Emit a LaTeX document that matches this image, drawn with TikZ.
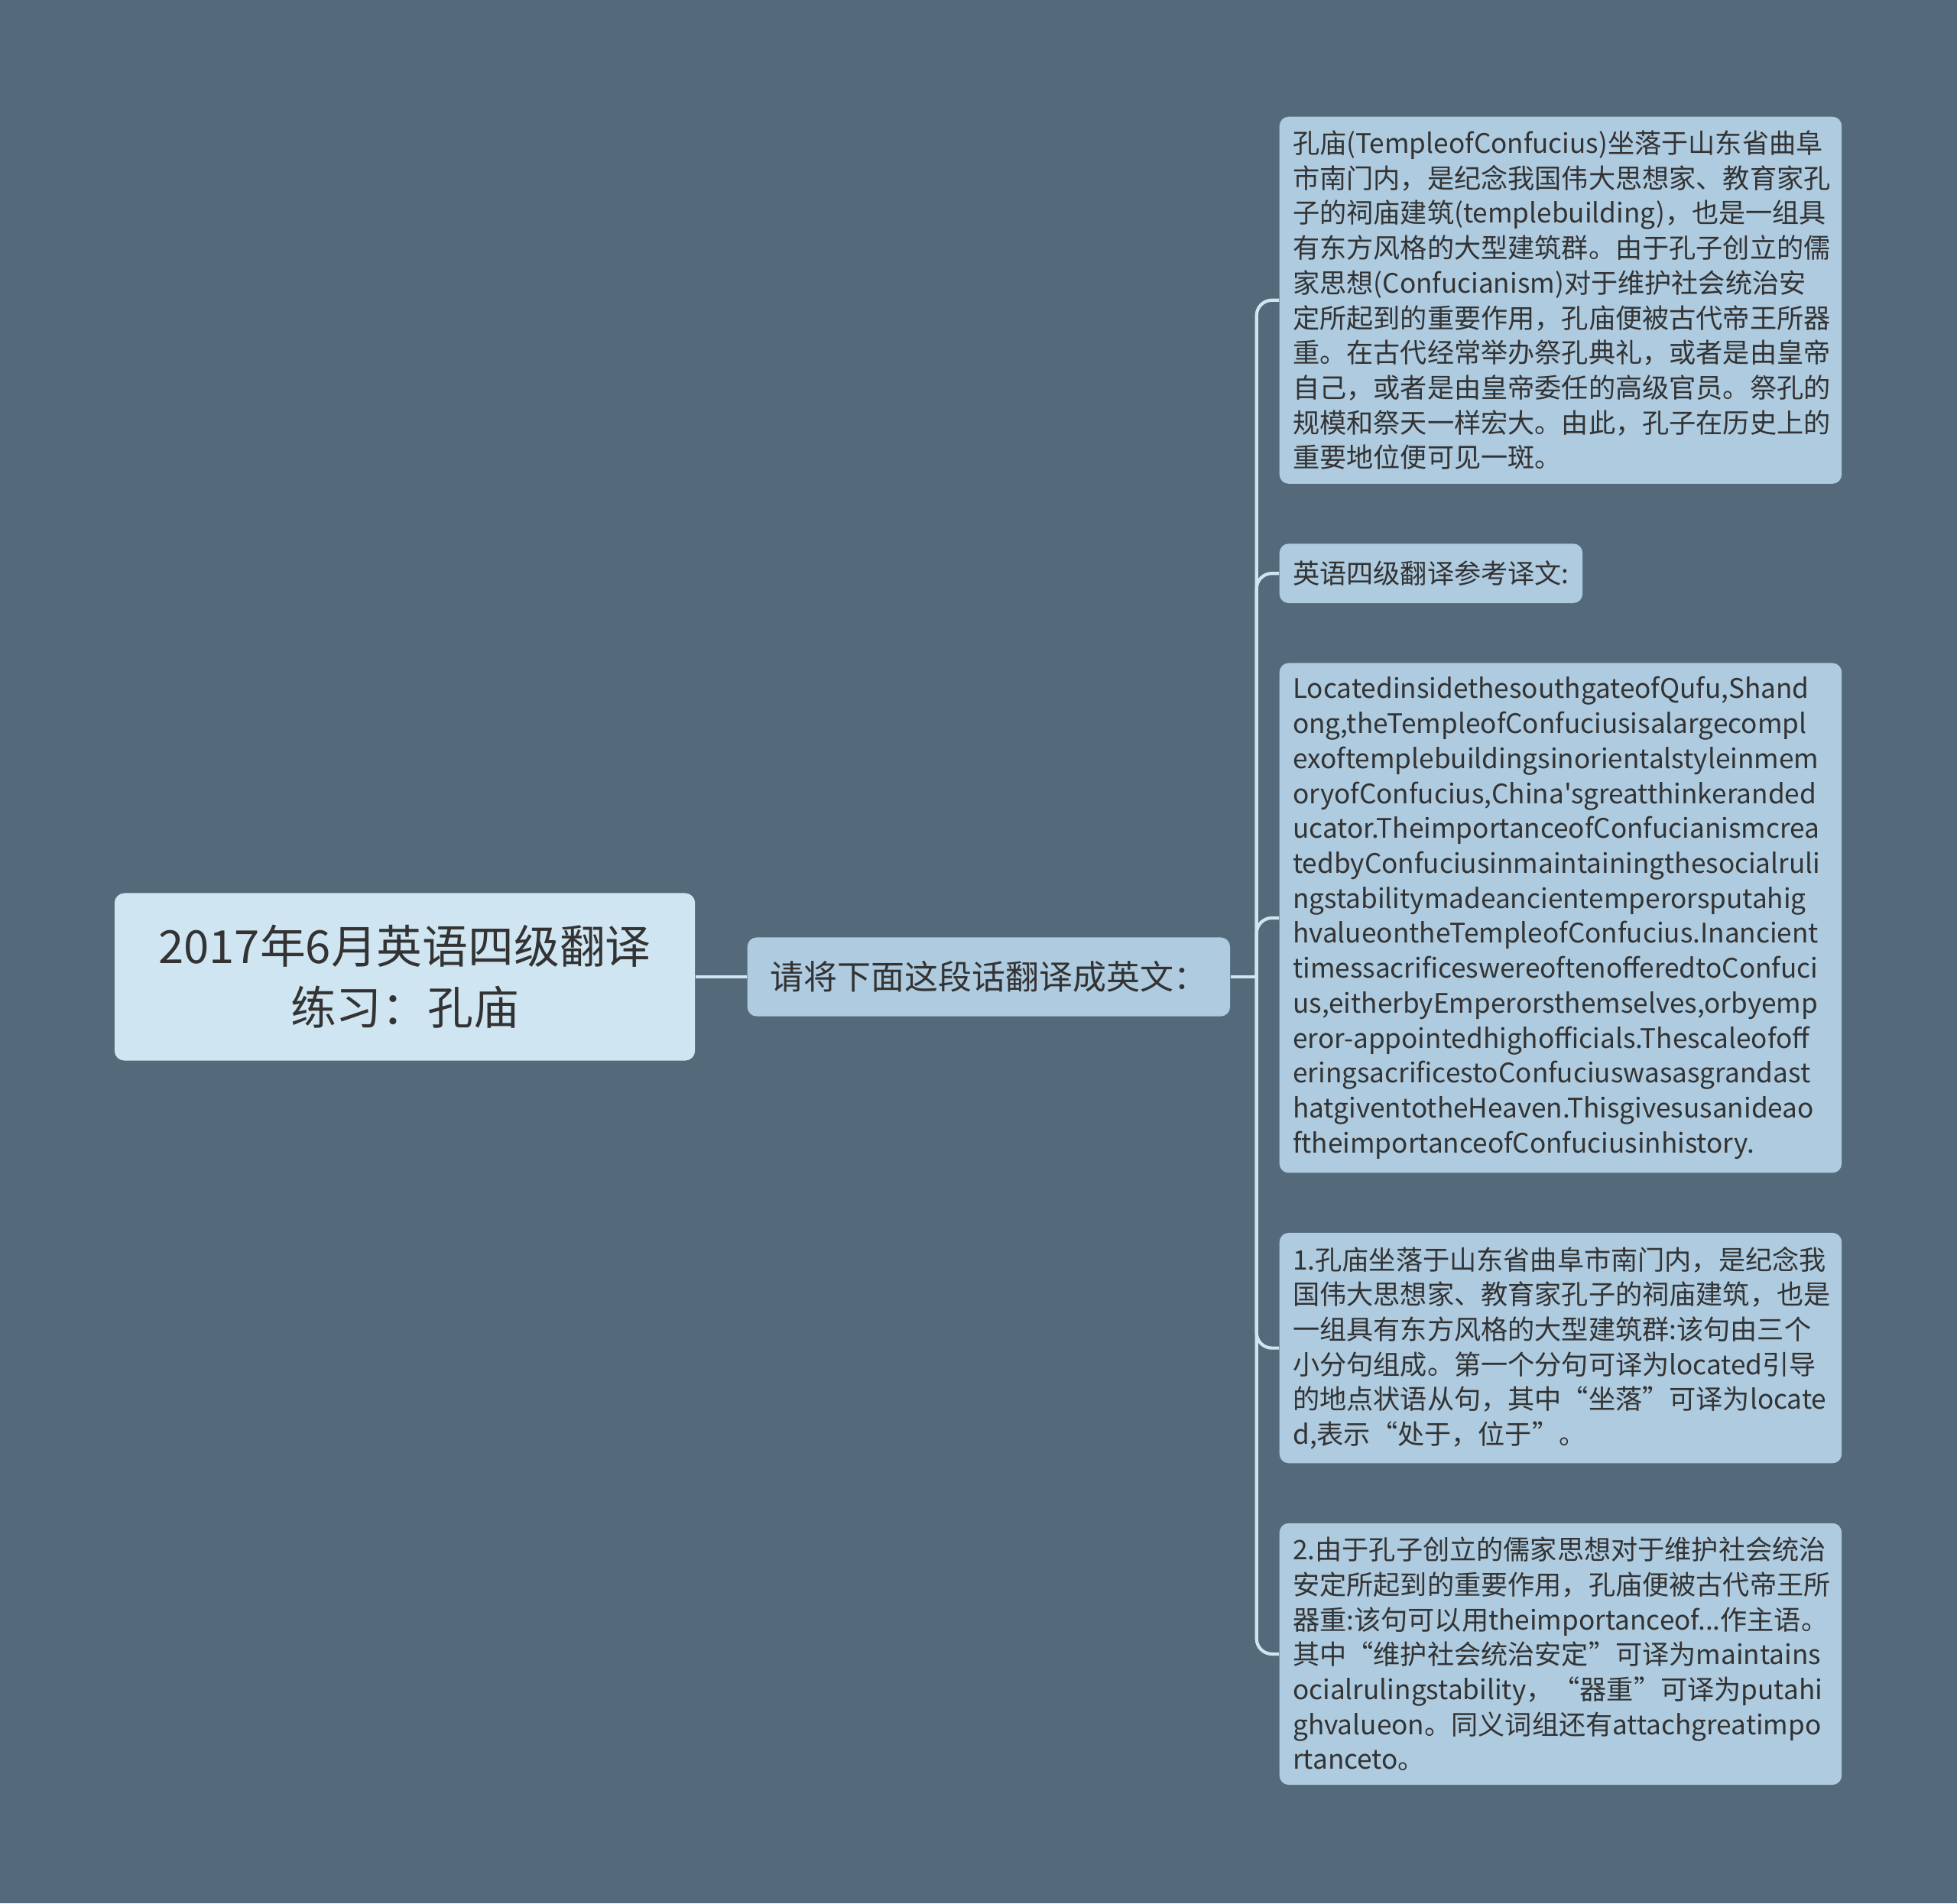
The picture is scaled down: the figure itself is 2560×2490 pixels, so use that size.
\documentclass[tikz,border=0pt]{standalone}
\usepackage{fontspec}
\setmainfont{Noto Sans CJK SC}[Ligatures=TeXOff]
\usetikzlibrary{positioning}
\definecolor{bgcol}{HTML}{546A7B}
\definecolor{rootfill}{HTML}{CFE5F1}
\definecolor{leaffill}{HTML}{AECBE0}
\definecolor{linecol}{HTML}{CFE5F1}
\definecolor{txtcol}{HTML}{333333}

\begin{document}
\begin{tikzpicture}[x=0.01cm, y=-0.01cm,
    node distance=0.77cm,
    titlebox/.style={fill=rootfill, rounded corners=0.13cm, minimum width=7.59cm, minimum height=2.19cm, align=center, text=txtcol, font=\fontsize{17}{22.8}\selectfont},
    askbox/.style={fill=leaffill, rounded corners=0.12cm, minimum width=6.31cm, minimum height=1.03cm, align=center, text=txtcol, font=\fontsize{12.5}{15}\selectfont},
    leaf/.style={fill=leaffill, rounded corners=0.12cm, inner xsep=0.175cm, inner ysep=0.18cm, align=left, text=txtcol, font=\fontsize{10}{13}\selectfont},
    leafwide/.style={leaf, text width=7.0cm},
    link/.style={draw=linecol, line width=1.2pt, rounded corners=0.2cm}
  ]
  \useasboundingbox[fill=bgcol] (0,0) rectangle (2560,2490);

  \node[titlebox] (title) at (529.5,1278) {2017年6月英语四级翻译\\练习：孔庙};
  \node[askbox, right=0.67cm of title] (ask) {请将下面这段话翻译成英文：};
  \coordinate[right=0.34cm of ask] (fork);

  \node[leafwide, anchor=north west] (src) at (1673,152) {孔庙(TempleofConfucius)坐落于山东省曲阜\\
    市南门内，是纪念我国伟大思想家、教育家孔\\
    子的祠庙建筑(templebuilding)，也是一组具\\
    有东方风格的大型建筑群。由于孔子创立的儒\\
    家思想(Confucianism)对于维护社会统治安\\
    定所起到的重要作用，孔庙便被古代帝王所器\\
    重。在古代经常举办祭孔典礼，或者是由皇帝\\
    自己，或者是由皇帝委任的高级官员。祭孔的\\
    规模和祭天一样宏大。由此，孔子在历史上的\\
    重要地位便可见一斑。};
  \node[leaf, inner ysep=0.225cm, below=of src.south west, anchor=north west] (refhead) {英语四级翻译参考译文:};
  \node[leafwide, below=of refhead.south west, anchor=north west] (trans) {LocatedinsidethesouthgateofQufu,Shand\\
    ong,theTempleofConfuciusisalargecompl\\
    exoftemplebuildingsinorientalstyleinmem\\
    oryofConfucius,China'sgreatthinkeranded\\
    ucator.TheimportanceofConfucianismcrea\\
    tedbyConfuciusinmaintainingthesocialruli\\
    ngstabilitymadeancientemperorsputahig\\
    hvalueontheTempleofConfucius.Inancient\\
    timessacrificeswereoftenofferedtoConfuci\\
    us,eitherbyEmperorsthemselves,orbyemp\\
    eror-appointedhighofficials.Thescaleofoff\\
    eringsacrificestoConfuciuswasasgrandast\\
    hatgiventotheHeaven.Thisgivesusanideao\\
    ftheimportanceofConfuciusinhistory.};
  \node[leafwide, below=of trans.south west, anchor=north west] (note1) {1.孔庙坐落于山东省曲阜市南门内，是纪念我\\
    国伟大思想家、教育家孔子的祠庙建筑，也是\\
    一组具有东方风格的大型建筑群:该句由三个\\
    小分句组成。第一个分句可译为located引导\\
    的地点状语从句，其中“坐落”可译为locate\\
    d,表示“处于，位于”。};
  \node[leafwide, below=of note1.south west, anchor=north west] (note2) {2.由于孔子创立的儒家思想对于维护社会统治\\
    安定所起到的重要作用，孔庙便被古代帝王所\\
    器重:该句可以用theimportanceof...作主语。\\
    其中“维护社会统治安定”可译为maintains\\
    ocialrulingstability，“器重”可译为putahi\\
    ghvalueon。同义词组还有attachgreatimpo\\
    rtanceto。};

  \draw[link] (title) -- (ask);
  \draw[link] (ask) -- (fork);
  \foreach \n in {src,refhead,trans,note1,note2}
    \draw[link] (fork) |- (\n.west);
\end{tikzpicture}
\end{document}
